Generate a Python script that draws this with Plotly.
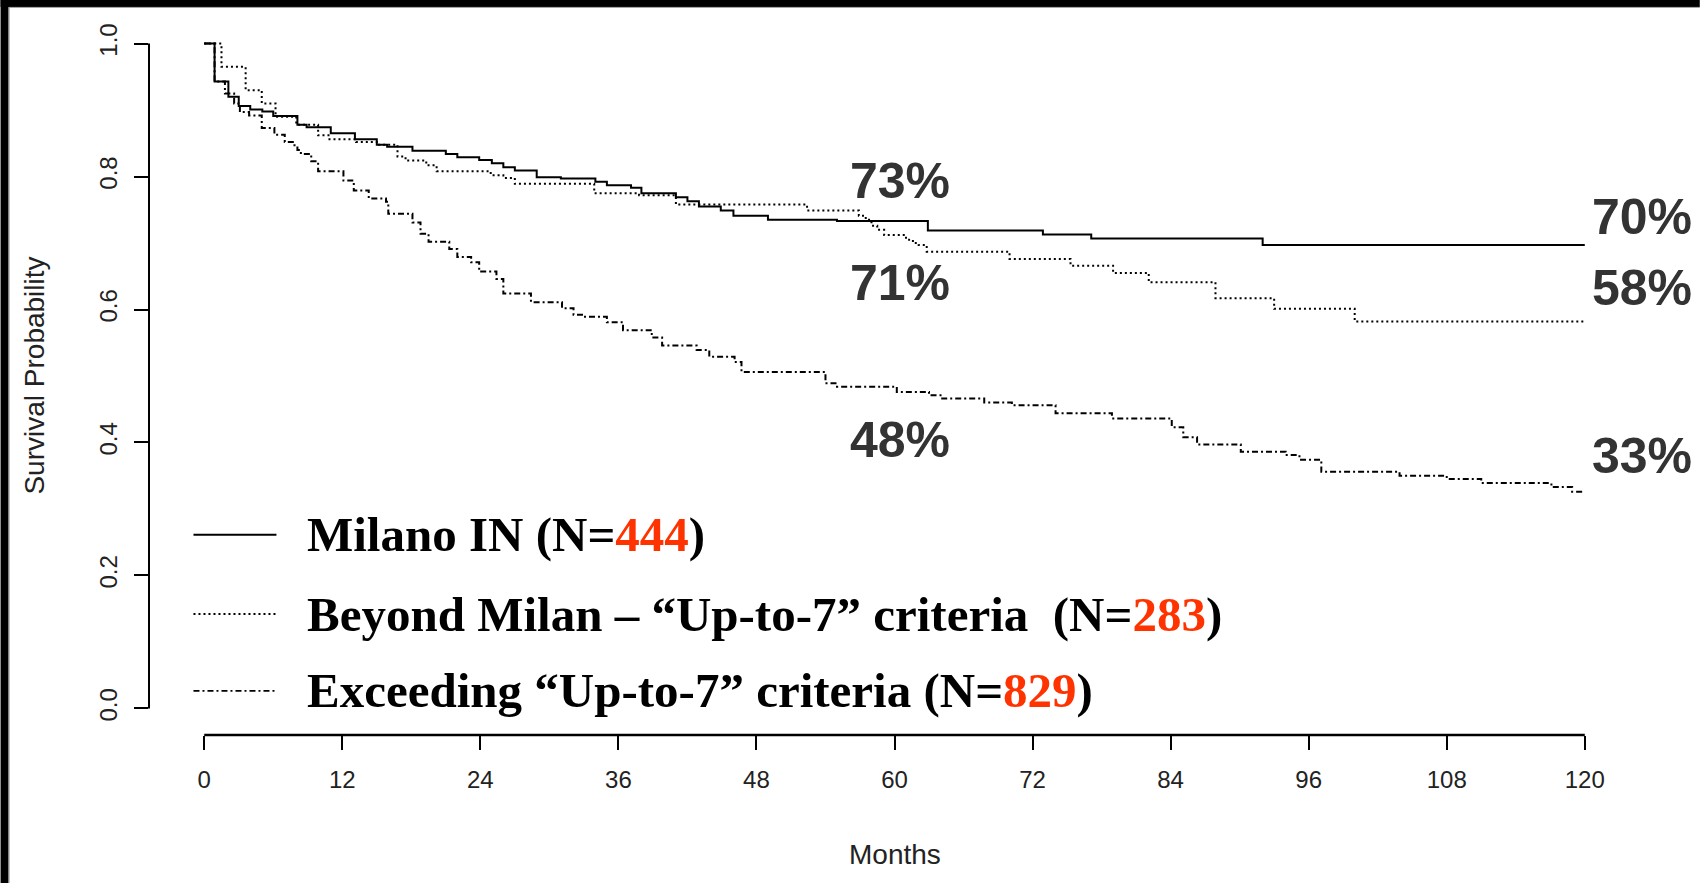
import plotly.graph_objects as go

# ---------------- data ----------------
month_ticks = [0, 12, 24, 36, 48, 60, 72, 84, 96, 108, 120]
surv_ticks = [0.0, 0.2, 0.4, 0.6, 0.8, 1.0]

# Kaplan-Meier step points (months, survival probability)
milan_in_t = [0, 0.9, 2.1, 3.0, 4.0, 5.05, 6.0, 8.1, 8.9, 11.0, 13.1, 15.0, 15.9, 18.1,
              21.0, 22.0, 23.9, 25.0, 26.0, 27.0, 28.9, 31.0, 34.0, 35.0, 37.1, 38.0,
              41.0, 42.0, 43.0, 44.9, 46.0, 49.0, 55.0, 62.9, 72.9, 77.1, 92.0, 120]
milan_in_s = [1.0, 0.943, 0.920, 0.906, 0.901, 0.898, 0.891, 0.878, 0.874, 0.865, 0.856,
              0.848, 0.845, 0.839, 0.834, 0.829, 0.825, 0.820, 0.814, 0.809, 0.799, 0.797,
              0.792, 0.787, 0.783, 0.775, 0.769, 0.763, 0.755, 0.749, 0.741, 0.735, 0.733,
              0.719, 0.713, 0.707, 0.697, 0.697]

up_to_7_t = [0, 1.5, 3.6, 5.0, 6.2, 8.0, 9.9, 10.8, 13.2, 15.0, 16.8, 17.5, 19.3, 20.2,
             24.9, 26.0, 27.0, 33.9, 37.8, 41.0, 52.4, 56.9, 57.5, 58.0, 58.5, 59.1, 61.0,
             61.6, 62.1, 62.8, 70.0, 75.3, 79.0, 82.1, 87.9, 93.0, 100.0, 120]
up_to_7_s = [1.0, 0.965, 0.930, 0.910, 0.890, 0.878, 0.862, 0.856, 0.852, 0.848, 0.830,
             0.824, 0.817, 0.808, 0.802, 0.798, 0.789, 0.775, 0.772, 0.758, 0.749, 0.741,
             0.735, 0.726, 0.720, 0.712, 0.705, 0.700, 0.697, 0.687, 0.676, 0.666, 0.655,
             0.641, 0.617, 0.601, 0.582, 0.582]

exceeding_t = [0, 0.9, 1.8, 2.6, 3.1, 3.9, 5.0, 6.1, 7.0, 7.7, 8.1, 8.4, 9.3, 9.9, 12.1,
               13.0, 14.3, 15.8, 16.0, 18.1, 18.8, 19.5, 21.3, 22.0, 23.2, 23.9, 25.4,
               26.0, 28.4, 31.1, 32.1, 33.0, 35.0, 36.4, 38.9, 39.8, 42.8, 43.9, 46.1,
               46.7, 54.0, 55.0, 60.2, 63.0, 64.0, 67.8, 70.2, 74.0, 78.9, 84.1, 85.1,
               86.3, 90.1, 94.0, 95.2, 97.1, 103.9, 108.0, 111.0, 117.1, 118.9, 120]
exceeding_s = [1.0, 0.943, 0.925, 0.910, 0.897, 0.892, 0.873, 0.863, 0.852, 0.847, 0.840,
               0.834, 0.823, 0.808, 0.794, 0.779, 0.767, 0.762, 0.744, 0.731, 0.714, 0.702,
               0.691, 0.679, 0.671, 0.657, 0.646, 0.624, 0.611, 0.602, 0.592, 0.589, 0.581,
               0.569, 0.558, 0.546, 0.539, 0.529, 0.521, 0.506, 0.489, 0.484, 0.476, 0.471,
               0.466, 0.460, 0.456, 0.444, 0.436, 0.423, 0.408, 0.397, 0.386, 0.381, 0.374,
               0.356, 0.350, 0.345, 0.339, 0.333, 0.326, 0.326]

group_names = ["Milano IN", "Beyond Milan \u2013 \u201cUp-to-7\u201d criteria ",
               "Exceeding \u201cUp-to-7\u201d criteria"]
group_n = [444, 283, 829]
pct_60 = [73, 71, 48]
pct_120 = [70, 58, 33]

# ---------------- geometry ----------------
W, H = 1700, 883
ML, MR, MT, MB = 148.5, 59.8, 17.1, 148.4
PW, PH = W - ML - MR, H - MT - MB


def px_x(px):
    return (px - ML) / PW


def px_y(py):
    return (H - MB - py) / PH


SANS = "Liberation Sans, Arial, sans-serif"
SERIF = "Liberation Serif, Times New Roman, serif"
RED = "#ff3300"

styles = [dict(color="black", width=2, dash="solid"),
          dict(color="black", width=2, dash="2px,3px"),
          dict(color="black", width=2, dash="6px,3px,2px,3px")]

fig = go.Figure()
series = [(milan_in_t, milan_in_s), (up_to_7_t, up_to_7_s), (exceeding_t, exceeding_s)]
for (t, s), name, st in zip(series, group_names, styles):
    fig.add_trace(go.Scatter(x=t, y=s, mode="lines", line_shape="hv", line=st,
                             name=name, showlegend=False, hoverinfo="skip"))

shapes = []
# axis lines spanning only the tick range
shapes.append(dict(type="line", xref="x", yref="paper", x0=month_ticks[0], x1=month_ticks[-1],
                   y0=0, y1=0, line=dict(color="black", width=2.5)))
shapes.append(dict(type="line", xref="paper", yref="y", x0=0, x1=0,
                   y0=surv_ticks[0], y1=surv_ticks[-1], line=dict(color="black", width=2)))

# frame bands
shapes.append(dict(type="rect", xref="paper", yref="paper", x0=px_x(0), x1=px_x(W),
                   y0=px_y(0), y1=px_y(7), fillcolor="black", line=dict(width=0)))
shapes.append(dict(type="rect", xref="paper", yref="paper", x0=px_x(0), x1=px_x(8),
                   y0=px_y(0), y1=px_y(H), fillcolor="black", line=dict(width=0)))
shapes.append(dict(type="line", xref="paper", yref="paper", x0=px_x(8.5), x1=px_x(W),
                   y0=px_y(7.5), y1=px_y(7.5), line=dict(color="#9a9a9a", width=1)))
shapes.append(dict(type="line", xref="paper", yref="paper", x0=px_x(8.5), x1=px_x(8.5),
                   y0=px_y(7.5), y1=px_y(H), line=dict(color="#9a9a9a", width=1)))

annotations = []
# legend
legend_rows = [534.5, 613.7, 690.6]
for name, n, st, row in zip(group_names, group_n, styles, legend_rows):
    shapes.append(dict(type="line", xref="paper", yref="paper", x0=px_x(193), x1=px_x(276),
                       y0=px_y(row), y1=px_y(row),
                       line=dict(color="black", width=1.8, dash=st["dash"])))
    annotations.append(dict(xref="paper", yref="paper", x=px_x(305), y=px_y(row),
                            xanchor="left", yanchor="middle", showarrow=False,
                            text=f'<b>{name} (N=<span style="color:{RED}">{n}</span>)</b>',
                            font=dict(family=SERIF, size=49, color="black")))

# survival percentages at 5 and 10 years
pct_y60 = [0.793, 0.640, 0.404]
pct_y120 = [0.739, 0.632, 0.379]
for v, y in zip(pct_60, pct_y60):
    annotations.append(dict(x=60.5, y=y, xref="x", yref="y", text=f"<b>{v}%</b>", showarrow=False,
                            font=dict(family=SANS, size=50, color="#333333"),
                            xanchor="center", yanchor="middle"))
for v, y in zip(pct_120, pct_y120):
    annotations.append(dict(x=px_x(1642), y=y, xref="paper", yref="y", text=f"<b>{v}%</b>",
                            showarrow=False, font=dict(family=SANS, size=50, color="#333333"),
                            xanchor="center", yanchor="middle"))

# axis titles
annotations.append(dict(xref="paper", yref="paper", x=px_x(33), y=0.5, text="Survival Probability",
                        textangle=-90, showarrow=False, xanchor="center", yanchor="middle",
                        font=dict(family=SANS, size=28, color="#222222")))
annotations.append(dict(xref="x", yref="paper", x=60, y=px_y(854), text="Months",
                        showarrow=False, xanchor="center", yanchor="middle",
                        font=dict(family=SANS, size=28, color="#222222")))

fig.update_layout(
    width=W, height=H,
    margin=dict(l=ML, r=MR, t=MT, b=MB, pad=0),
    paper_bgcolor="white", plot_bgcolor="white",
    shapes=shapes, annotations=annotations,
    showlegend=False,
    xaxis=dict(range=[-4.8, 124.8], tickvals=month_ticks, ticktext=[str(v) for v in month_ticks],
               ticks="outside", ticklen=14, tickwidth=2, tickcolor="black",
               showline=False, showgrid=False, zeroline=False, ticklabelstandoff=9,
               tickfont=dict(family=SANS, size=24, color="#222222")),
    yaxis=dict(range=[-0.04, 1.04], tickvals=surv_ticks, ticktext=[f"{v:.1f}" for v in surv_ticks],
               ticks="outside", ticklen=14, tickwidth=2, tickcolor="black", tickangle=-90,
               showline=False, showgrid=False, zeroline=False, ticklabelstandoff=7,
               tickfont=dict(family=SANS, size=24, color="#222222")),
)

fig.write_html("out.html")
